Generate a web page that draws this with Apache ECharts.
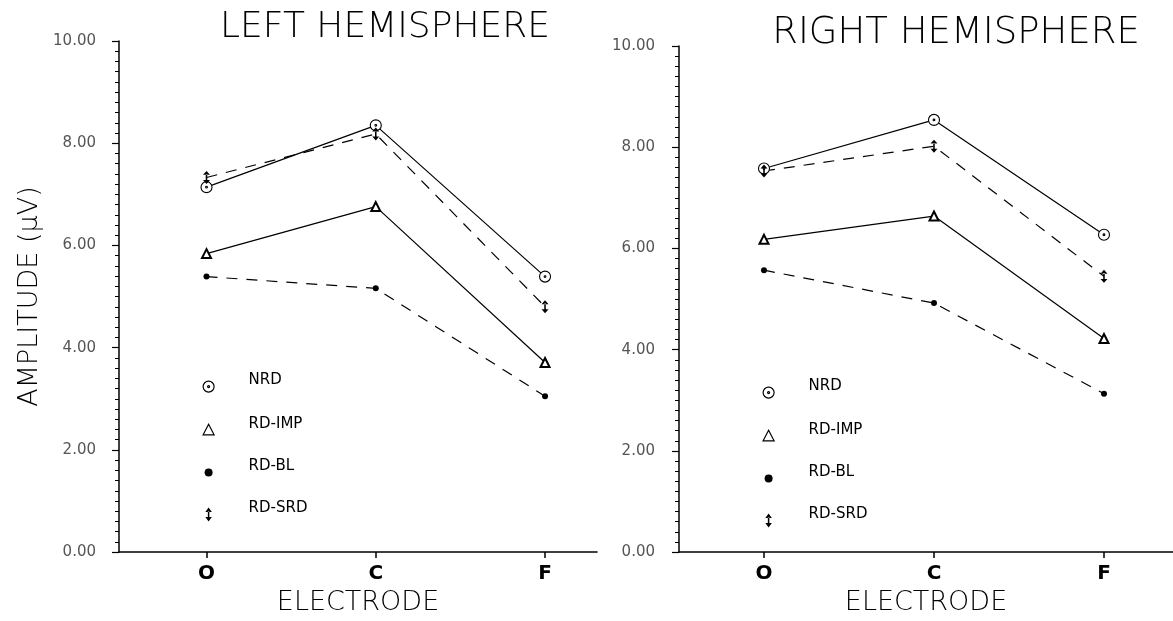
<!DOCTYPE html>
<html><head><meta charset="utf-8">
<script src="https://cdn.jsdelivr.net/npm/echarts@6/dist/echarts.min.js"></script>
<style>html,body{margin:0;padding:0;background:#fff}#c{width:1173px;height:621px}</style>
</head><body><div id="c"></div>
<script>
// ---- data ----
const electrodes = ['O', 'C', 'F'];
const groupNames = ['NRD', 'RD-IMP', 'RD-BL', 'RD-SRD'];
const panelTitles = ['LEFT HEMISPHERE', 'RIGHT HEMISPHERE'];
const yTicks = [0, 2, 4, 6, 8, 10];

const leftNRD    = [7.14, 8.35, 5.39];
const leftRDIMP  = [5.84, 6.76, 3.71];
const leftRDBL   = [5.39, 5.16, 3.05];
const leftRDSRD  = [7.33, 8.18, 4.80];

const rightNRD   = [7.58, 8.54, 6.27];
const rightRDIMP = [6.18, 6.64, 4.22];
const rightRDBL  = [5.57, 4.92, 3.13];
const rightRDSRD = [7.53, 8.02, 5.45];

// ---- styles ----
const FONT = 'DejaVu Sans';
const THIN = 'DejaVu Sans';
const THIN_W = 200;
const ringDot = 'path://M0,-10A10,10 0 1,1 0,10A10,10 0 1,1 0,-10Z M0,-1.6A1.6,1.6 0 1,1 0,1.6A1.6,1.6 0 1,1 0,-1.6Z';
const arrow2 = 'path://M0,-10L-4.5,-4L4.5,-4Z M0,10L-4.5,4L4.5,4Z M-1,-5L1,-5L1,5L-1,5Z';
// legend icons: padded bounding box (x -14..14, y -38..14) keeps sizes and drops the icon below the text centre
const BB = 'M-14,-38L-14,-38M14,14L14,14';
const lgRing = 'path://' + BB + 'M0,-11A11,11 0 1,1 0,11A11,11 0 1,1 0,-11Z M0,-2A2,2 0 1,1 0,2A2,2 0 1,1 0,-2Z';
const lgTri = 'path://' + BB + 'M0,-11L11,10L-11,10Z';
const lgDot = 'path://' + BB + 'M0,-8A8,8 0 1,1 0,8A8,8 0 1,1 0,-8Z';
const lgArrow = 'path://' + BB + 'M0,-14L-6.5,-5L6.5,-5Z M0,14L-6.5,5L6.5,5Z M-1.5,-6L1.5,-6L1.5,6L-1.5,6Z';

const symStyle = {
  'NRD':    {symbol: ringDot, size: 11, item: {color: '#fff', borderColor: '#000', borderWidth: 1.1}, dash: 'solid', lg: lgRing},
  'RD-IMP': {symbol: 'emptyTriangle', size: 9, item: {color: '#000', borderColor: '#000', borderWidth: 1.3}, dash: 'solid', lg: lgTri},
  'RD-BL':  {symbol: 'circle', size: 6, item: {color: '#000', borderColor: '#000', borderWidth: 0}, dash: [11, 9], lg: lgDot},
  'RD-SRD': {symbol: arrow2, size: [7, 13], item: {color: '#000', borderColor: '#000', borderWidth: 0}, dash: [11, 9], lg: lgArrow}
};

const panels = [
  {vals: [leftNRD, leftRDIMP, leftRDBL, leftRDSRD]},
  {vals: [rightNRD, rightRDIMP, rightRDBL, rightRDSRD]}
];

const toPts = arr => arr.map((v, i) => [i, v]);

const series = [];
panels.forEach((p, pi) => {
  groupNames.forEach((name, gi) => {
    const s = symStyle[name];
    series.push({
      type: 'line', name, xAxisIndex: pi, yAxisIndex: pi,
      data: toPts(p.vals[gi]),
      symbol: s.symbol, symbolSize: s.size, showAllSymbol: true,
      itemStyle: s.item,
      lineStyle: {color: '#000', width: 1.2, type: s.dash},
      z: 3, animation: false
    });
  });
});

const legendData = groupNames.map(n => ({
  name: n,
  icon: symStyle[n].lg,
  itemStyle: (n === 'NRD' || n === 'RD-IMP') ? {color: '#fff', borderColor: '#000', borderWidth: 1.2}
           : {color: '#000', borderColor: '#000', borderWidth: 0}
}));

function xAxisFor(gi, min, max, gap) {
  return {
    type: 'value', gridIndex: gi, min, max,
    axisLine: {show: true, onZero: false, lineStyle: {color: '#000', width: 1.5}},
    splitLine: {show: false},
    axisTick: {show: true, customValues: [0, 1, 2], length: 6, lineStyle: {color: '#000', width: 1.5}},
    axisLabel: {customValues: [0, 1, 2], formatter: v => electrodes[Math.round(v)] || '',
      fontFamily: FONT, fontWeight: 'bold', fontSize: 20, color: '#000', margin: 12},
    name: 'ELECTRODE', nameLocation: 'middle', nameGap: gap,
    nameTextStyle: {fontFamily: THIN, fontWeight: THIN_W, fontSize: 27, color: '#000'}
  };
}
function yAxisFor(gi, withName, margin) {
  const a = {
    type: 'value', gridIndex: gi, min: yTicks[0], max: yTicks[yTicks.length - 1], interval: yTicks[1] - yTicks[0],
    axisLine: {show: true, onZero: false, lineStyle: {color: '#000', width: 1.5}},
    axisTick: {show: true, length: 7, lineStyle: {color: '#000', width: 1.2}},
    minorTick: {show: true, splitNumber: 10, length: 4, lineStyle: {color: '#000', width: 1}},
    splitLine: {show: false},
    axisLabel: {formatter: v => v.toFixed(2), fontFamily: FONT, fontSize: 15, color: '#555', margin}
  };
  if (withName) {
    a.name = 'AMPLITUDE (μV)';
    a.nameLocation = 'middle';
    a.nameGap = 76;
    a.nameTextStyle = {fontFamily: THIN, fontWeight: THIN_W, fontSize: 27, color: '#000'};
  }
  return a;
}

const legendText = {fontFamily: FONT, fontSize: 15, color: '#000', padding: [0, 0, 0, 28]};

const option = {
  backgroundColor: '#fff',
  animation: false,
  title: [
    {text: panelTitles[0], left: 380, top: 5, textAlign: 'center',
     textStyle: {fontFamily: THIN, fontWeight: THIN_W, fontSize: 36, color: '#000'}},
    {text: panelTitles[1], left: 951, top: 10, textAlign: 'center',
     textStyle: {fontFamily: THIN, fontWeight: THIN_W, fontSize: 37, color: '#000'}}
  ],
  grid: [
    {left: 119, top: 41, width: 478, height: 516},
    {left: 679, top: 46, width: 494, height: 517}
  ],
  xAxis: [xAxisFor(0, -0.517, 2.307, 30), xAxisFor(1, -0.5, 2.406, 33)],
  yAxis: [yAxisFor(0, true, 23), yAxisFor(1, false, 24)],
  legend: [
    {orient: 'vertical', left: 196, top: 362, itemGap: 16, itemWidth: 14, itemHeight: 26,
     data: legendData, selectedMode: false, textStyle: legendText},
    {orient: 'vertical', left: 756, top: 368, itemGap: 16, itemWidth: 14, itemHeight: 26,
     data: legendData, selectedMode: false, textStyle: legendText}
  ],
  series
};

const chart = echarts.init(document.getElementById('c'), null, {renderer: 'canvas'});
chart.setOption(option);
</script>
</body></html>
